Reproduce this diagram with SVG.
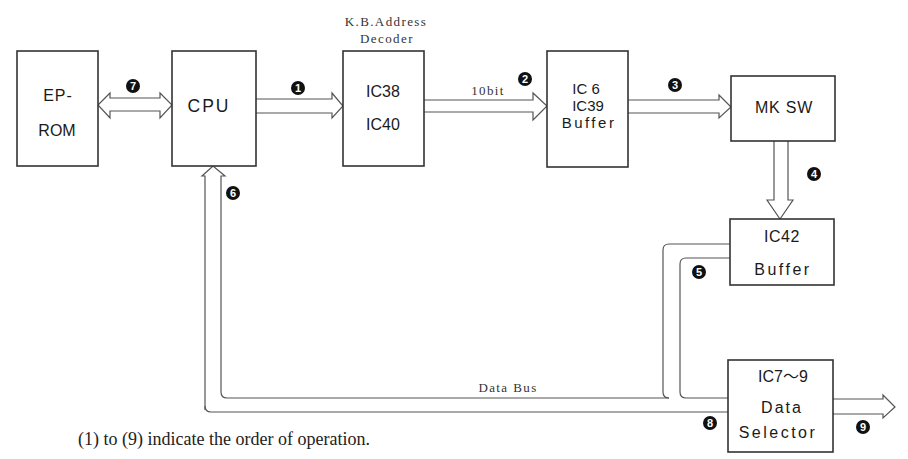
<svg xmlns="http://www.w3.org/2000/svg" width="908" height="459" viewBox="0 0 908 459">
<style>
.box{fill:#fff;stroke:#333;stroke-width:1.6}
.lbl{font-family:"Liberation Sans","Noto Sans CJK JP",sans-serif;font-size:16px;fill:#1a1a1a;text-anchor:middle}
.ser{font-family:"Liberation Serif",serif;font-size:13px;fill:#333;text-anchor:middle;letter-spacing:1.4px}
.ar{fill:#fff;stroke:#555;stroke-width:1.2;stroke-linejoin:miter}
.ln{fill:none;stroke:#555;stroke-width:1.2}
.num circle{fill:#111}
.num text{font-family:"Liberation Sans",sans-serif;font-size:11px;font-weight:bold;fill:#fff;text-anchor:middle}
</style>
<g id="connectors">
  <path class="ar" d="M98,105 L110,93 L110,98 L160,98 L160,93 L172,105 L160,118 L160,111 L110,111 L110,118 Z"/>
  <path class="ar" d="M256,99 L332,99 L332,93 L343,106 L332,118 L332,113 L256,113"/>
  <path class="ar" d="M424,100 L533,100 L533,93 L547,106 L533,120 L533,112 L424,112"/>
  <path class="ar" d="M628,100 L719,100 L719,95 L731,107 L719,118 L719,113 L628,113"/>
  <path class="ar" d="M774,141 L774,200 L767,200 L780,219 L793,200 L788,200 L788,141"/>
  <path class="ar" d="M205,410 L205,176 L202,176 L213,166 L225,176 L221,176 L221,392"/>
  <path class="ar" d="M833,399 L883,399 L883,395 L895,407 L883,418 L883,414 L833,414"/>
  <path class="ln" d="M205,406 Q205,412 211,412 L728,412"/>
  <path class="ln" d="M221,392 Q221,398 227,398 L669,398"/>
  <path class="ln" d="M730,244 L669,244 Q663,244 663,250 L663,392 Q663,398 669,398"/>
  <path class="ln" d="M730,258 L686,258 Q680,258 680,264 L680,392 Q680,398 686,398 L728,398"/>
</g>
<g id="eprom">
  <rect class="box" x="17" y="51" width="81" height="115"/>
  <text class="lbl" x="58" y="101" style="letter-spacing:1px">EP-</text>
  <text class="lbl" x="57" y="136">ROM</text>
</g>
<g id="cpu">
  <rect class="box" x="172" y="51" width="84" height="115"/>
  <text class="lbl" x="209" y="112" style="font-size:17.5px;letter-spacing:2px">CPU</text>
</g>
<g id="decoder">
  <text class="ser" x="386" y="26">K.B.Address</text>
  <text class="ser" x="387" y="43">Decoder</text>
  <rect class="box" x="343" y="51" width="81" height="115"/>
  <text class="lbl" x="383" y="97">IC38</text>
  <text class="lbl" x="383" y="130">IC40</text>
</g>
<g id="ic6">
  <rect class="box" x="547" y="51" width="81" height="116"/>
  <text class="lbl" x="586" y="94" style="font-size:15px">IC 6</text>
  <text class="lbl" x="588" y="111" style="font-size:15px">IC39</text>
  <text class="lbl" x="589" y="128" style="font-size:15px;letter-spacing:2.5px">Buffer</text>
</g>
<g id="mksw">
  <rect class="box" x="731" y="76" width="104" height="65"/>
  <text class="lbl" x="784" y="113" style="letter-spacing:0.8px">MK SW</text>
</g>
<g id="ic42">
  <rect class="box" x="730" y="219" width="104" height="66"/>
  <text class="lbl" x="782" y="242" style="letter-spacing:0.5px">IC42</text>
  <text class="lbl" x="783" y="275" style="letter-spacing:2.5px">Buffer</text>
</g>
<g id="selector">
  <rect class="box" x="728" y="360" width="105" height="92"/>
  <text class="lbl" x="783" y="382">IC7～9</text>
  <text class="lbl" x="782" y="413" style="letter-spacing:2px">Data</text>
  <text class="lbl" x="778" y="438" style="letter-spacing:2.5px">Selector</text>
</g>
<g id="labels">
  <text class="ser" x="488" y="95">10bit</text>
  <text class="ser" x="508" y="392">Data Bus</text>
  <text x="78" y="445" style="font-family:'Liberation Serif',serif;font-size:18px;fill:#222">(1) to (9) indicate the order of operation.</text>
</g>
<g id="numbers" class="num">
  <g><circle cx="133" cy="86" r="7"/><text x="133" y="90">7</text></g>
  <g><circle cx="298" cy="88" r="7"/><text x="298" y="92">1</text></g>
  <g><circle cx="525" cy="79" r="7"/><text x="525" y="83">2</text></g>
  <g><circle cx="675" cy="85" r="7"/><text x="675" y="89">3</text></g>
  <g><circle cx="814" cy="174" r="7"/><text x="814" y="178">4</text></g>
  <g><circle cx="699" cy="272" r="7"/><text x="699" y="276">5</text></g>
  <g><circle cx="233" cy="193" r="7"/><text x="233" y="197">6</text></g>
  <g><circle cx="710" cy="423" r="7"/><text x="710" y="427">8</text></g>
  <g><circle cx="863" cy="427" r="7"/><text x="863" y="431">9</text></g>
</g>
</svg>
